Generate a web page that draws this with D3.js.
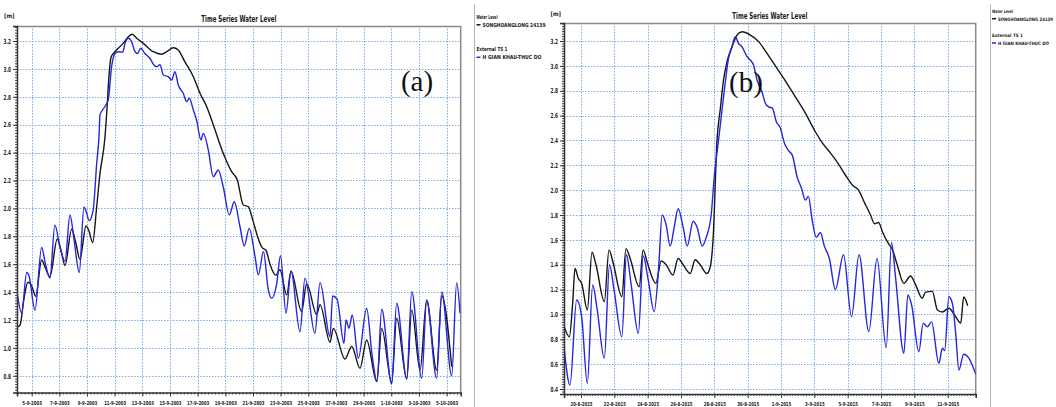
<!DOCTYPE html>
<html>
<head>
<meta charset="utf-8">
<script src="https://cdn.jsdelivr.net/npm/d3@7"></script>
<style>
  html, body { margin: 0; padding: 0; background: #fff; }
  svg { display: block; }
  text { font-family: "Liberation Sans Narrow", "Arial Narrow", "DejaVu Sans Condensed", "Liberation Sans", sans-serif; font-weight: bold; fill: #1a1a1a; }
  text.tag { font-family: "Liberation Serif", "Times New Roman", serif; font-weight: normal; fill: #111; }
</style>
</head>
<body>
<svg id="chart" width="1056" height="407"></svg>
<script>
// ---- Shared texts ----
const chartTitle = "Time Series Water Level";
const unitLabel = "[m]";
const legendGroups = ["Water Level", "External TS 1"];
const seriesNames = ["SONGHOANGLONG 24139", "H GIAN KHAU-THUC DO"];

// ---- Panel (a): Sep–Oct 2003, time in days since 1-9-2003 ----
const xLabelsA = ["5-9-2003", "7-9-2003", "9-9-2003", "11-9-2003", "13-9-2003", "15-9-2003",
  "17-9-2003", "19-9-2003", "21-9-2003", "23-9-2003", "25-9-2003", "27-9-2003",
  "29-9-2003", "1-10-2003", "3-10-2003", "5-10-2003"];
const yTicksA = [0.8, 1.0, 1.2, 1.4, 1.6, 1.8, 2.0, 2.2, 2.4, 2.6, 2.8, 3.0, 3.2];

const songHoangA = [[2.94,1.15],[3.15,1.16],[3.44,1.35],[3.73,1.47],[4.02,1.44],[4.29,1.37],[4.72,1.63],[4.96,1.58],
  [5.32,1.51],[5.85,1.78],[6.12,1.70],[6.41,1.59],[6.89,1.85],[7.20,1.75],[7.49,1.635],[7.93,1.874],[8.14,1.84],
  [8.41,1.755],[8.70,2.01],[8.94,2.25],[9.30,2.51],[9.45,2.72],[9.59,2.95],[9.73,3.08],[9.90,3.11],[10.26,3.148],
  [10.62,3.183],[10.99,3.23],[11.27,3.248],[11.59,3.22],[12.07,3.183],[12.79,3.123],[13.40,3.105],[13.76,3.123],
  [14.24,3.152],[14.60,3.136],[15.08,3.05],[15.69,2.944],[16.17,2.825],[16.65,2.73],[17.13,2.60],[17.85,2.395],
  [18.46,2.263],[18.87,2.204],[19.30,2.024],[19.66,2.012],[20.02,1.905],[20.39,1.78],[20.65,1.72],[20.94,1.70],
  [21.23,1.60],[21.66,1.52],[21.95,1.56],[22.44,1.38],[22.75,1.55],[23.52,1.26],[23.88,1.46],[24.61,1.24],
  [24.85,1.31],[25.57,1.04],[25.81,1.14],[26.65,0.92],[27.14,1.01],[27.74,0.854],[28.22,1.056],[28.95,0.758],
  [29.31,1.14],[30.03,0.75],[30.39,1.212],[31.12,0.775],[31.48,1.272],[32.08,0.842],[32.56,1.34],[33.28,0.84],
  [33.65,1.372],[34.37,0.865]];

const thucDoA = [[2.94,1.40],[3.28,1.25],[3.64,1.54],[3.80,1.52],[4.24,1.27],[4.72,1.72],[5.00,1.60],[5.32,1.50],
  [5.68,1.88],[6.05,1.72],[6.41,1.62],[6.77,1.953],[7.06,1.78],[7.44,1.54],[7.78,2.01],[7.93,1.98],[8.16,1.912],
  [8.45,1.99],[8.70,2.32],[8.87,2.52],[8.94,2.67],[9.30,2.73],[9.54,2.78],[9.78,3.016],[10.02,3.11],[10.26,3.123],
  [10.58,3.12],[10.75,3.183],[10.99,3.22],[11.23,3.195],[11.42,3.135],[11.64,3.11],[11.88,3.148],[12.19,3.11],
  [12.55,3.076],[12.84,3.028],[13.04,3.016],[13.28,3.03],[13.52,2.956],[13.88,2.944],[14.12,2.92],[14.36,2.98],
  [14.60,2.885],[14.96,2.825],[15.21,2.765],[15.40,2.79],[15.69,2.705],[15.93,2.63],[16.24,2.49],[16.41,2.538],
  [16.77,2.42],[17.13,2.227],[17.49,2.275],[17.85,2.155],[18.29,1.953],[18.65,2.048],[19.06,1.87],[19.37,1.73],
  [19.73,1.857],[20.15,1.654],[20.39,1.523],[20.76,1.69],[21.11,1.415],[21.35,1.355],[21.72,1.463],[21.99,1.66],
  [22.39,1.248],[22.75,1.55],[23.40,1.116],[23.76,1.50],[24.48,1.105],[24.85,1.468],[25.57,1.08],[25.76,1.372],
  [26.08,1.35],[26.58,1.033],[26.73,1.20],[26.94,1.14],[27.18,1.236],[27.62,0.925],[28.22,1.284],[28.61,0.95],
  [28.97,0.76],[29.31,1.277],[30.03,0.741],[30.39,1.32],[31.12,0.782],[31.48,1.403],[32.20,0.782],[32.56,1.343],
  [33.28,0.782],[33.65,1.40],[34.37,0.80],[34.73,1.468],[34.97,1.248]];

// ---- Panel (b): Aug–Sep 2015, time in days since 1-8-2015 ----
const xLabelsB = ["20-8-2015", "22-8-2015", "24-8-2015", "26-8-2015", "28-8-2015", "30-8-2015",
  "1-9-2015", "3-9-2015", "5-9-2015", "7-9-2015", "9-9-2015", "11-9-2015"];
const yTicksB = [0.4, 0.6, 0.8, 1.0, 1.2, 1.4, 1.6, 1.8, 2.0, 2.2, 2.4, 2.6, 2.8, 3.0, 3.2];

const songHoangB = [[18.00,0.90],[18.30,0.82],[18.50,1.09],[18.64,1.37],[18.84,1.29],[19.04,1.25],[19.38,1.036],
  [19.66,1.50],[19.90,1.40],[20.40,1.103],[20.68,1.52],[20.92,1.42],[21.45,1.143],[21.70,1.53],[21.95,1.45],
  [22.49,1.223],[22.73,1.52],[22.97,1.42],[23.49,1.25],[23.81,1.43],[24.11,1.40],[24.51,1.317],[24.83,1.45],
  [25.13,1.40],[25.55,1.33],[25.85,1.44],[26.15,1.40],[26.55,1.33],[26.75,1.38],[26.93,1.62],[27.16,2.404],
  [27.35,2.645],[27.55,2.886],[27.76,3.034],[28.06,3.154],[28.36,3.248],[28.66,3.275],[29.16,3.248],[29.66,3.195],
  [30.16,3.10],[30.66,3.00],[31.26,2.88],[31.86,2.75],[32.46,2.62],[33.06,2.47],[33.48,2.38],[33.96,2.30],
  [34.45,2.21],[34.87,2.12],[35.29,2.04],[35.65,2.00],[36.01,1.90],[36.37,1.80],[36.61,1.73],[36.85,1.74],
  [37.10,1.66],[37.45,1.57],[37.69,1.52],[37.97,1.40],[38.37,1.25],[38.77,1.31],[39.07,1.24],[39.47,1.13],
  [39.67,1.18],[40.08,1.186],[40.38,1.036],[40.68,1.02],[41.06,1.05],[41.48,0.982],[41.78,0.93],[41.96,1.14],
  [42.20,1.07]];

const thucDoB = [[18.00,0.714],[18.34,0.432],[18.74,1.116],[19.04,0.98],[19.38,0.446],[19.70,1.237],[19.96,1.05],
  [20.40,0.647],[20.71,1.40],[20.98,1.20],[21.45,0.82],[21.73,1.48],[22.00,1.25],[22.44,0.848],[22.73,1.47],
  [23.03,1.28],[23.39,1.022],[23.65,1.36],[23.87,1.80],[24.11,1.72],[24.35,1.55],[24.59,1.70],[24.83,1.85],
  [25.13,1.70],[25.37,1.55],[25.73,1.75],[25.97,1.70],[26.27,1.55],[26.51,1.62],[26.81,1.80],[26.99,2.10],
  [27.25,2.40],[27.46,2.645],[27.65,2.86],[27.85,3.06],[28.06,3.154],[28.25,3.235],[28.45,3.18],[28.66,3.154],
  [28.96,3.074],[29.16,3.047],[29.35,3.007],[29.56,2.886],[29.86,2.79],[30.06,2.70],[30.26,2.67],[30.48,2.66],
  [30.72,2.55],[30.96,2.50],[31.20,2.38],[31.44,2.32],[31.68,2.28],[31.98,2.10],[32.22,2.02],[32.46,1.92],
  [32.64,1.95],[32.88,1.75],[33.12,1.62],[33.36,1.66],[33.60,1.55],[33.90,1.45],[34.26,1.20],[34.75,1.48],
  [35.23,0.982],[35.68,1.48],[36.27,0.862],[36.76,1.45],[37.31,0.733],[37.63,1.58],[37.87,1.30],[38.37,0.688],
  [38.61,1.157],[38.83,1.08],[39.27,0.70],[39.53,0.93],[39.78,0.90],[40.03,0.94],[40.47,0.607],[40.68,0.728],
  [40.82,0.71],[41.07,1.143],[41.28,1.09],[41.48,0.848],[41.67,0.553],[41.96,0.68],[42.26,0.65],[42.68,0.52]];

// ---- Layout of the two panels ----
const panels = [
  { id: "a", tag: "(a)", base: Date.UTC(2003, 8, 1), days: [2.94, 35.02], yDomain: [0.680, 3.3075],
    left: 17, right: 460.7, top: 26, bottom: 392.5, minorHours: 6, labelY: 12.5,
    xLabels: xLabelsA, yTicks: yTicksA, black: songHoangA, blue: thucDoA,
    tagX: 417, tagY: 91, titleY: 21.5, unitX: 14.5, unitY: 18.3,
    legendX: 476.5, legendSep: 474.5, legendY: [18.5, 26.8, 51, 59.3], nameWidths: [63, 59], legendFont: 5.5 },
  { id: "b", tag: "(b)", base: Date.UTC(2015, 7, 1), days: [17.98, 42.68], yDomain: [0.360, 3.345],
    left: 564, right: 975.7, top: 23, bottom: 394, minorHours: 4, labelY: 11.5,
    xLabels: xLabelsB, yTicks: yTicksB, black: songHoangB, blue: thucDoB,
    tagX: 746, tagY: 92, titleY: 18.5, unitX: 561, unitY: 15.5,
    legendX: 992, legendSep: 990.5, legendY: [12.7, 20.7, 37.3, 45], nameWidths: [55, 51], legendFont: 4.6 }
];

const BLACK = "#161616", BLUE = "#2626e0", GRID = "#78ace6";
const parseLabel = d3.utcParse("%d-%m-%Y");
const svg = d3.select("#chart");
svg.append("rect").attr("width", 1056).attr("height", 407).attr("fill", "#fff");

panels.forEach(p => {
  const g = svg.append("g").attr("class", "panel-" + p.id);
  const toDate = d => new Date(p.base + d * 864e5);
  const x = d3.scaleUtc().domain(p.days.map(toDate)).range([p.left, p.right]);
  const y = d3.scaleLinear().domain(p.yDomain).range([p.bottom, p.top]);
  const tickDates = p.xLabels.map(parseLabel);

  // clip for the series
  g.append("clipPath").attr("id", "clip-" + p.id)
    .append("rect").attr("x", p.left).attr("y", p.top)
    .attr("width", p.right - p.left).attr("height", p.bottom - p.top);

  // dotted grid
  const grid = g.append("g").attr("stroke", GRID).attr("stroke-width", 1).attr("stroke-dasharray", "1.5,1.5");
  grid.selectAll("line.h").data(p.yTicks).join("line").attr("class", "h")
    .attr("x1", p.left).attr("x2", p.right)
    .attr("y1", d => Math.round(y(d)) + 0.5).attr("y2", d => Math.round(y(d)) + 0.5);
  grid.selectAll("line.v").data(tickDates).join("line").attr("class", "v")
    .attr("y1", p.top).attr("y2", p.bottom)
    .attr("x1", d => Math.round(x(d)) + 0.5).attr("x2", d => Math.round(x(d)) + 0.5);

  // top and right frame
  g.append("path")
    .attr("d", `M${p.left},${p.top + 0.5}H${p.right}V${p.bottom}`)
    .attr("fill", "none").attr("stroke", "#8a8a8a").attr("stroke-width", 1.5);

  // series
  const line = d3.line()
    .x(d => x(toDate(d[0]))).y(d => y(d[1]))
    .curve(d3.curveMonotoneX);
  const series = g.append("g").attr("clip-path", `url(#clip-${p.id})`).attr("fill", "none")
    .attr("stroke-width", 1.4).attr("stroke-linejoin", "round");
  series.append("path").datum(p.black).attr("stroke", BLACK).attr("d", line);
  series.append("path").datum(p.blue).attr("stroke", BLUE).attr("d", line);

  // y axis: minor ticks every 0.02, then labelled major ticks
  const yMinor = d3.range(Math.ceil(p.yDomain[0] * 50), Math.floor(p.yDomain[1] * 50) + 1).map(v => v / 50);
  g.append("g").attr("transform", `translate(${p.left},0)`)
    .call(d3.axisLeft(y).tickValues(yMinor).tickSize(2).tickFormat(""))
    .call(a => a.select(".domain").remove())
    .call(a => a.selectAll("text").remove())
    .call(a => a.selectAll("line").attr("stroke", "#444"));
  g.append("g").attr("transform", `translate(${p.left},0)`)
    .call(d3.axisLeft(y).tickValues(p.yTicks).tickSize(4).tickPadding(2).tickFormat(d3.format(".1f")))
    .call(a => a.select(".domain").attr("stroke", "#333").attr("stroke-width", 1.5))
    .call(a => a.selectAll("line").attr("stroke", "#333"))
    .call(a => a.selectAll("text").attr("font-size", 7).attr("font-family", null)
      .attr("textLength", 7.5).attr("lengthAdjust", "spacingAndGlyphs"));

  // x axis: minor ticks, then labelled days
  const xMinor = d3.utcHour.every(p.minorHours).range(...x.domain());
  g.append("g").attr("transform", `translate(0,${p.bottom})`)
    .call(d3.axisBottom(x).tickValues(xMinor).tickSize(2).tickFormat(""))
    .call(a => a.select(".domain").remove())
    .call(a => a.selectAll("text").remove())
    .call(a => a.selectAll("line").attr("stroke", "#444"));
  g.append("g").attr("transform", `translate(0,${p.bottom})`)
    .call(d3.axisBottom(x).tickValues(tickDates).tickSize(4).tickPadding(2)
      .tickFormat((d, i) => p.xLabels[i]))
    .call(a => a.select(".domain").attr("stroke", "#333").attr("stroke-width", 1.5))
    .call(a => a.selectAll("line").attr("stroke", "#333"))
    .call(a => a.selectAll("text").attr("font-size", 5.5).attr("font-family", null)
      .attr("dy", null).attr("y", p.labelY)
      .attr("textLength", (d, i) => p.xLabels[i].length * 2.45).attr("lengthAdjust", "spacingAndGlyphs"));

  // title, unit and panel tag
  g.append("text").attr("x", (p.left + p.right) / 2).attr("y", p.titleY)
    .attr("text-anchor", "middle").attr("font-size", 8.5)
    .attr("textLength", 75).attr("lengthAdjust", "spacingAndGlyphs").text(chartTitle);
  g.append("text").attr("x", p.unitX).attr("y", p.unitY).attr("text-anchor", "end")
    .attr("font-size", 6).text(unitLabel);
  g.append("text").attr("class", "tag").attr("x", p.tagX).attr("y", p.tagY)
    .attr("text-anchor", "middle").attr("font-size", 29).text(p.tag);

  // legend
  g.append("line").attr("x1", p.legendSep).attr("x2", p.legendSep).attr("y1", 4).attr("y2", 407)
    .attr("stroke", "#b5b5b5").attr("stroke-width", 1);
  const lg = g.append("g");
  const colors = [BLACK, BLUE];
  legendGroups.forEach((grp, i) => {
    lg.append("text").attr("x", p.legendX).attr("y", p.legendY[i * 2]).attr("font-size", p.legendFont)
      .attr("textLength", i === 0 ? 21 : 31).attr("lengthAdjust", "spacingAndGlyphs").text(grp);
    lg.append("line").attr("x1", p.legendX).attr("x2", p.legendX + 4)
      .attr("y1", p.legendY[i * 2 + 1] - 2).attr("y2", p.legendY[i * 2 + 1] - 2)
      .attr("stroke", colors[i]).attr("stroke-width", 1.5);
    lg.append("text").attr("x", p.legendX + 6).attr("y", p.legendY[i * 2 + 1]).attr("font-size", p.legendFont)
      .attr("textLength", p.nameWidths[i]).attr("lengthAdjust", "spacingAndGlyphs").text(seriesNames[i]);
  });
});
</script>
</body>
</html>
